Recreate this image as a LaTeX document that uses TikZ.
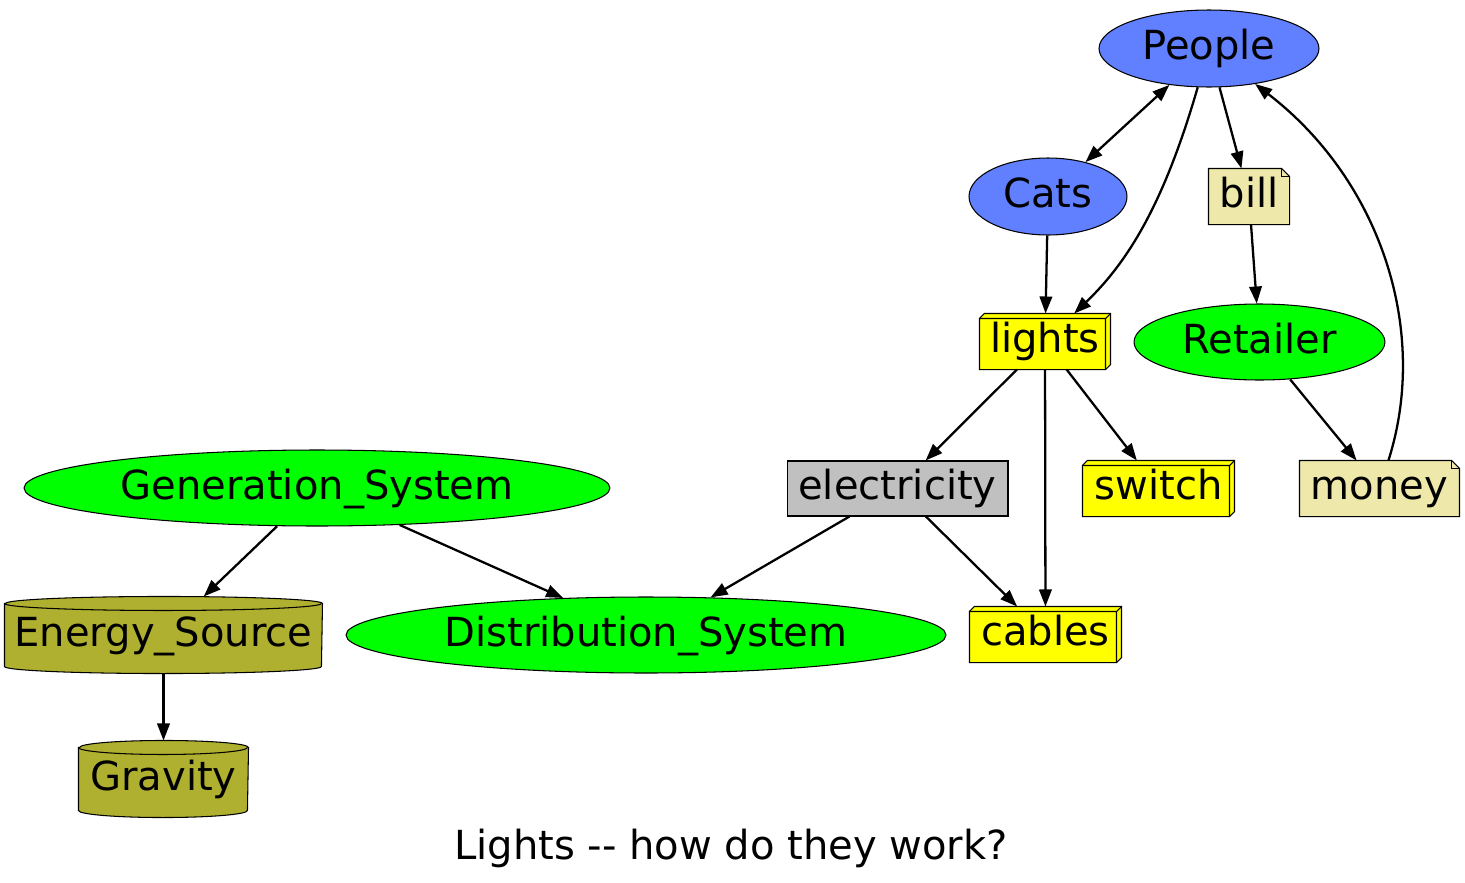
\documentclass[tikz,border=0pt]{standalone}
\usepackage{fontspec}
\setmainfont{DejaVu Sans}
\usetikzlibrary{shapes.geometric,arrows.meta,backgrounds}

\definecolor{peopleblue}{RGB}{96,128,255}
\definecolor{nodegreen}{RGB}{0,255,0}
\definecolor{boxyellow}{RGB}{255,255,0}
\definecolor{paper}{RGB}{238,232,170}
\definecolor{wire}{RGB}{192,192,192}
\definecolor{rock}{RGB}{176,176,48}

\tikzset{
	thing/.style={inner sep=0pt, text height=17pt, text depth=4pt, line width=0.6pt},
	blob/.style={thing, ellipse, draw, fill=#1},
	plain/.style={thing, rectangle, draw, fill=#1},
	slot/.style={thing, rectangle},
	link/.style={line width=1.3pt, ->},
	>={Triangle[length=0.34cm,width=0.25cm]}
}

\newcommand{\crate}[1]{%
	\begin{pgfonlayer}{background}
	\filldraw[fill=boxyellow, line width=0.6pt] ([yshift=-1mm]#1.north west) -- ([xshift=1mm]#1.north west) -- (#1.north east) -- ([yshift=1mm]#1.south east) -- ([xshift=-1mm]#1.south east) -- (#1.south west) -- cycle;
	\draw[line width=0.6pt] ([yshift=-1mm]#1.north west) -- ([shift={(-1mm,-1mm)}]#1.north east) -- (#1.north east) ([shift={(-1mm,-1mm)}]#1.north east) -- ([xshift=-1mm]#1.south east);
	\end{pgfonlayer}}

\newcommand{\dogear}[1]{%
	\begin{pgfonlayer}{background}
	\filldraw[fill=paper, line width=0.6pt] (#1.north west) -- ([xshift=-1.6mm]#1.north east) -- ([yshift=-1.6mm]#1.north east) -- (#1.south east) -- (#1.south west) -- cycle;
	\draw[line width=0.6pt] ([xshift=-1.6mm]#1.north east) |- ([yshift=-1.6mm]#1.north east);
	\end{pgfonlayer}}

\newcommand{\drum}[2]{%
	\begin{pgfonlayer}{background}
	\filldraw[fill=rock, line width=0.6pt] ([yshift=-1.4mm]#1.north west) -- ([yshift=1.4mm]#1.south west) arc[start angle=180, end angle=360, x radius=#2, y radius=1.4mm] -- ([yshift=-1.4mm]#1.north east) arc[start angle=0, end angle=180, x radius=#2, y radius=1.4mm] -- cycle;
	\draw[line width=0.6pt] ([yshift=-1.4mm]#1.north west) arc[start angle=180, end angle=360, x radius=#2, y radius=1.4mm];
	\end{pgfonlayer}}

\begin{document}
\begin{tikzpicture}[x=0.02cm, y=-0.02cm, font=\fontsize{22.8}{27}\selectfont]
	\useasboundingbox (0,0) rectangle (1465,883);
	\node[blob=peopleblue, minimum width=4.4cm, minimum height=1.54cm] (People) at (1209,48.5) {People};
	\node[blob=peopleblue, minimum width=3.16cm, minimum height=1.54cm] (Cats) at (1048,196.5) {Cats};
	\node[slot, minimum width=1.6cm, minimum height=1.1cm] (bill) at (1249,196.5) {bill};
	\node[slot, minimum width=2.6cm, minimum height=1.1cm] (lights) at (1045,341.5) {lights};
	\node[blob=nodegreen, minimum width=5.02cm, minimum height=1.52cm] (Retailer) at (1259.5,342) {Retailer};
	\node[blob=nodegreen, minimum width=11.72cm, minimum height=1.52cm] (Generation) at (317,488) {Generation\_System};
	\node[plain=wire, minimum width=4.42cm, minimum height=1.1cm] (electricity) at (897.5,488.5) {electricity};
	\node[slot, minimum width=3.02cm, minimum height=1.1cm] (switch) at (1158.5,488.5) {switch};
	\node[slot, minimum width=3.18cm, minimum height=1.1cm] (money) at (1379.5,488.5) {money};
	\node[slot, minimum width=6.34cm, minimum height=1.52cm] (Energy) at (163.5,635) {Energy\_Source};
	\node[blob=nodegreen, minimum width=12cm, minimum height=1.52cm] (Distribution) at (646,635) {Distribution\_System};
	\node[slot, minimum width=3.02cm, minimum height=1.1cm] (cables) at (1045.5,634.5) {cables};
	\node[slot, minimum width=3.38cm, minimum height=1.52cm] (Gravity) at (163.5,779) {Gravity};
	\node[thing] (title) at (731,848.5) {Lights -\kern0pt- how do they work?};

	\crate{lights}
	\crate{switch}
	\crate{cables}
	\dogear{bill}
	\dogear{money}
	\drum{Energy}{3.17cm}
	\drum{Gravity}{1.69cm}

	\draw[link, <->] (People) -- (Cats);
	\draw[link] (People) .. controls (1165,200) and (1130,260) .. (lights);
	\draw[link] (People) -- (bill);
	\draw[link] (Cats) -- (lights);
	\draw[link] (bill) -- (Retailer);
	\draw[link] (Retailer) -- (money);
	\draw[link] (money) .. controls (1430,330) and (1380,180) .. (People);
	\draw[link] (lights) -- (electricity);
	\draw[link] (lights) -- (cables);
	\draw[link] (lights) -- (switch);
	\draw[link] (electricity) -- (Distribution);
	\draw[link] (electricity) -- (cables);
	\draw[link] (Generation) -- (Energy);
	\draw[link] (Generation) -- (Distribution);
	\draw[link] (Energy) -- (Gravity);
\end{tikzpicture}
\end{document}
